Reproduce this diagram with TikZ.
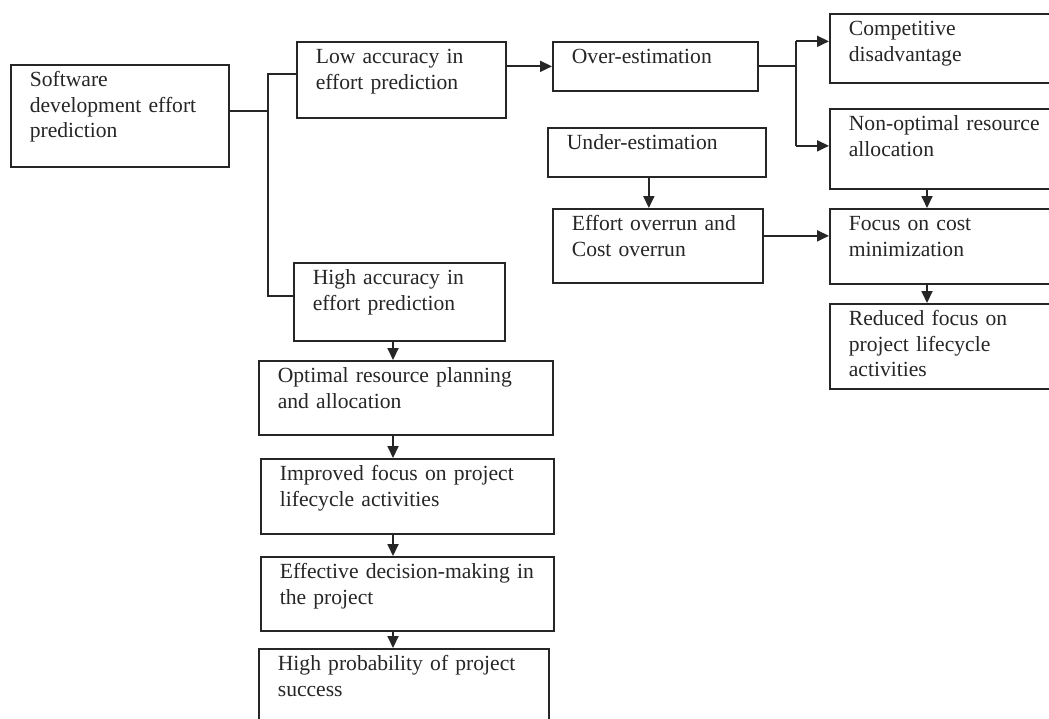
\documentclass[tikz,border=0pt]{standalone}
\usepackage{fontspec}
\setmainfont{Liberation Serif}
\usetikzlibrary{arrows.meta}

\begin{document}
\begin{tikzpicture}[
    x=1pt, y=-1pt,
    blk/.style={
        draw=black!85,
        line width=1.7pt,
        rectangle,
        anchor=north west,
        align=left,
        inner xsep=19pt,
        inner ysep=7pt,
        text height=15pt,
        text=black!85,
        font=\fontsize{21.6}{25.5}\selectfont
    },
    wire/.style={draw=black!85, line width=1.8pt},
    arr/.style={wire, -{Triangle[length=12pt,width=11pt]}}
]
    \useasboundingbox[fill=white] (0,0) rectangle (1049,718);

    % Radice
    \node[blk, text width=180pt, text depth=73pt] (sdep) at (10,64) {Software\\development effort\\prediction};

    % Ramo bassa accuratezza
    \node[blk, text width=171pt, text depth=47pt] (low) at (296,41) {Low accuracy in\\effort prediction};
    \node[blk, text width=167pt, text depth=20pt] (over) at (552,41) {Over-estimation};
    \node[blk, text width=180pt, text depth=20pt] (under) at (547,127) {Under-estimation};
    \node[blk, text width=172pt, text depth=45pt] (overrun) at (552,208) {Effort overrun and\\Cost overrun};

    % Colonna destra
    \node[blk, text width=202pt, text depth=40pt] (comp) at (829,13) {Competitive\\disadvantage};
    \node[blk, text width=202pt, text depth=51pt] (nonopt) at (829,108) {Non-optimal resource\\allocation};
    \node[blk, text width=202pt, text depth=46pt] (focus) at (829,208) {Focus on cost\\minimization};
    \node[blk, text width=202pt, text depth=56pt] (reduced) at (829,303) {Reduced focus on\\project lifecycle\\activities};

    % Ramo alta accuratezza
    \node[blk, text width=173pt, text depth=49pt] (high) at (293,262) {High accuracy in\\effort prediction};
    \node[blk, text width=256pt, text depth=45pt] (optimal) at (258,360) {Optimal resource planning\\and allocation};
    \node[blk, text width=255pt, text depth=46pt] (improved) at (260,458) {Improved focus on project\\lifecycle activities};
    \node[blk, text width=255pt, text depth=45pt] (effective) at (260,556) {Effective decision-making in\\the project};
    \node[blk, text width=252pt, text depth=51pt] (success) at (258,648) {High probability of project\\success};

    % Collegamenti
    \coordinate (split) at (268,0);
    \coordinate (fork) at (796,0);
    \coordinate (lspine) at (393,0);
    \coordinate (rspine) at (927,0);

    \draw[wire] ([yshift=5pt]sdep.east) -- ([yshift=5pt]sdep.east -| split);
    \draw[wire] ([yshift=6pt]low.west) -- ([yshift=6pt]low.west -| split)
        -- ([yshift=6pt]high.west -| split) -- ([yshift=6pt]high.west);

    \draw[arr] (low.east |- over.west) -- (over.west);
    \draw[wire] (over.east) -- (over.east -| fork);
    \draw[arr] ([yshift=7pt]comp.west -| fork) -- ([yshift=7pt]comp.west);
    \draw[arr] ([yshift=3pt]nonopt.west -| fork) -- ([yshift=3pt]nonopt.west);
    \draw[wire] ([yshift=7pt]comp.west -| fork) -- ([yshift=3pt]nonopt.west -| fork);

    \draw[arr] ([xshift=-8pt]under.south) -- ([xshift=-8pt]under.south |- overrun.north);
    \draw[arr] ([yshift=10pt]overrun.east) -- ([yshift=10pt]overrun.east -| focus.west);
    \draw[arr] (nonopt.south -| rspine) -- (focus.north -| rspine);
    \draw[arr] (focus.south -| rspine) -- (reduced.north -| rspine);

    \draw[arr] (high.south -| lspine) -- (optimal.north -| lspine);
    \draw[arr] (optimal.south -| lspine) -- (improved.north -| lspine);
    \draw[arr] (improved.south -| lspine) -- (effective.north -| lspine);
    \draw[arr] (effective.south -| lspine) -- (success.north -| lspine);

\end{tikzpicture}
\end{document}
